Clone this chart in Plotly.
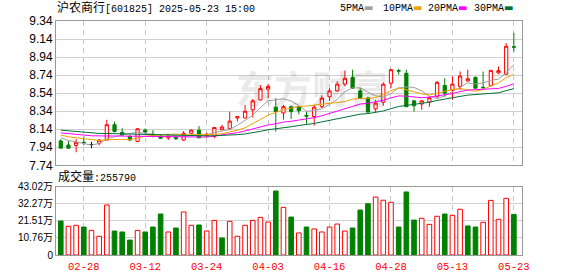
import plotly.graph_objects as go
import pandas as pd

# ---------------- data ----------------
dates = [
    "2025-02-25", "2025-02-26", "2025-02-27", "2025-02-28",
    "2025-03-03", "2025-03-04", "2025-03-05", "2025-03-06", "2025-03-07",
    "2025-03-10", "2025-03-11", "2025-03-12", "2025-03-13", "2025-03-14",
    "2025-03-17", "2025-03-18", "2025-03-19", "2025-03-20", "2025-03-21",
    "2025-03-24", "2025-03-25", "2025-03-26", "2025-03-27", "2025-03-28",
    "2025-03-31", "2025-04-01", "2025-04-02", "2025-04-03",
    "2025-04-07", "2025-04-08", "2025-04-09", "2025-04-10", "2025-04-11",
    "2025-04-14", "2025-04-15", "2025-04-16", "2025-04-17", "2025-04-18",
    "2025-04-21", "2025-04-22", "2025-04-23", "2025-04-24", "2025-04-25",
    "2025-04-28", "2025-04-29", "2025-04-30",
    "2025-05-06", "2025-05-07", "2025-05-08", "2025-05-09",
    "2025-05-12", "2025-05-13", "2025-05-14", "2025-05-15", "2025-05-16",
    "2025-05-19", "2025-05-20", "2025-05-21", "2025-05-22", "2025-05-23",
]
opens = [8.01, 7.965, 7.96, 7.995, 7.97, 7.985, 8.02, 8.19, 8.105, 8.06,
         8.005, 8.13, 8.085, 8.06, 8.045, 8.05, 8.02, 8.095, 8.13, 8.07,
         8.06, 8.135, 8.145, 8.265, 8.265, 8.355, 8.465, 8.585, 8.385, 8.32,
         8.39, 8.39, 8.295, 8.28, 8.39, 8.50, 8.565, 8.64, 8.715, 8.565,
         8.485, 8.365, 8.44, 8.65, 8.79, 8.76, 8.455, 8.42, 8.44, 8.50,
         8.625, 8.575, 8.615, 8.675, 8.715, 8.605, 8.625, 8.765, 8.75, 9.055]
highs = [8.03, 8.01, 8.03, 8.06, 8.00, 8.03, 8.245, 8.225, 8.15, 8.075,
         8.145, 8.15, 8.13, 8.085, 8.065, 8.07, 8.12, 8.14, 8.175, 8.10,
         8.165, 8.188, 8.335, 8.285, 8.41, 8.475, 8.63, 8.64, 8.485, 8.41,
         8.405, 8.395, 8.335, 8.41, 8.515, 8.595, 8.67, 8.79, 8.80, 8.595,
         8.50, 8.465, 8.66, 8.81, 8.81, 8.80, 8.46, 8.46, 8.495, 8.675,
         8.705, 8.725, 8.78, 8.80, 8.725, 8.78, 8.80, 8.835, 9.095, 9.21]
lows = [7.93, 7.925, 7.885, 7.96, 7.93, 7.96, 8.02, 8.105, 8.07, 8.01,
        8.00, 8.10, 8.05, 8.035, 8.02, 8.02, 8.01, 8.09, 8.04, 8.05,
        8.04, 8.13, 8.14, 8.225, 8.26, 8.27, 8.46, 8.485, 8.115, 8.245,
        8.255, 8.305, 8.20, 8.18, 8.375, 8.455, 8.56, 8.615, 8.59, 8.475,
        8.325, 8.33, 8.40, 8.595, 8.745, 8.385, 8.335, 8.355, 8.39, 8.49,
        8.50, 8.465, 8.575, 8.67, 8.59, 8.595, 8.615, 8.75, 8.745, 9.00]
closes = [7.93, 7.93, 7.995, 7.99, 7.97, 8.02, 8.19, 8.115, 8.075, 8.02,
          8.145, 8.11, 8.07, 8.04, 8.065, 8.035, 8.095, 8.13, 8.045, 8.085,
          8.16, 8.165, 8.23, 8.28, 8.34, 8.455, 8.59, 8.615, 8.335, 8.39,
          8.335, 8.345, 8.285, 8.385, 8.485, 8.565, 8.64, 8.705, 8.595, 8.485,
          8.33, 8.43, 8.64, 8.80, 8.785, 8.39, 8.40, 8.455, 8.49, 8.66,
          8.54, 8.64, 8.73, 8.70, 8.595, 8.60, 8.79, 8.79, 9.06, 9.05]
# estimated closes of the 29 sessions before the window (implied by where the MA lines start)
prior_closes = [8.15, 8.20, 8.24, 8.22, 8.18, 8.21, 8.19, 8.17, 8.16, 8.17,
                8.14, 8.12, 8.15, 8.13, 8.11, 8.14, 8.12, 8.10, 8.13, 8.11,
                8.12, 8.09, 8.11, 8.10, 8.095, 8.09, 8.07, 8.08, 8.065]
volumes = [21.4, 18.1, 18.7, 17.6, 15.5, 11.8, 31.5, 15.1, 14.5, 9.4,
           15.5, 14.5, 17.6, 25.8, 14.5, 17.0, 27.1, 18.7, 18.9, 15.1,
           21.8, 10.7, 21.2, 11.8, 18.7, 21.8, 23.7, 20.8, 40.3, 30.0,
           23.9, 13.9, 17.6, 16.4, 14.5, 17.6, 19.5, 15.1, 17.0, 28.3,
           32.3, 36.5, 34.5, 33.2, 17.6, 39.7, 22.0, 23.1, 19.3, 24.4,
           25.8, 25.0, 28.8, 18.3, 17.6, 20.6, 34.4, 22.5, 35.7, 25.579]  # 万股
vol_up = [0, 1, 1, 0, 1, 1, 1, 0, 0, 0,
          1, 0, 0, 0, 1, 0, 1, 1, 0, 1,
          1, 0, 1, 1, 1, 1, 1, 1, 0, 1,
          0, 1, 0, 1, 1, 1, 1, 1, 0, 0,
          0, 1, 1, 1, 0, 0, 0, 1, 1, 1,
          0, 1, 1, 0, 0, 1, 1, 1, 1, 0]
last_volume = 255790
ma_periods = [5, 10, 20, 30]
ma_names = ["5PMA", "10PMA", "20PMA", "30PMA"]
price_ticks = [7.74, 7.94, 8.14, 8.34, 8.54, 8.74, 8.94, 9.14, 9.34]
vol_ticks = [0, 10.76, 21.51, 32.27, 43.02]
vol_tick_labels = ["0", "10.76万", "21.51万", "32.27万", "43.02万"]
date_ticks = ["02-28", "03-12", "03-24", "04-03", "04-16", "04-28", "05-13", "05-23"]
title_text = "沪农商行[601825] 2025-05-23 15:00"

# ---------------- styling ----------------
RED = "#ff0000"
GREEN = "#008000"
MA_COLORS = ["#a0a0a0", "#f0a000", "#ff00ff", "#00703a"]
GRID = "#d0d0d0"
BORDER = "#999999"
W, H = 578, 276
L, R, T, B = 56, 56, 21, 21
PW, PH = W - L - R, H - T - B


def px(x):
    return (x - L) / PW


def py(y):
    return (H - B - y) / PH


n = len(closes)
xs = list(range(n))
mmdd = [d[5:] for d in dates]
tick_idx = [mmdd.index(t) for t in date_ticks]

all_closes = pd.Series(prior_closes + closes)
mas = [all_closes.rolling(p).mean().iloc[-n:].tolist() for p in ma_periods]

fig = go.Figure()

normal = [i for i in xs if opens[i] != closes[i]]
doji = [i for i in xs if opens[i] == closes[i]]

fig.add_trace(go.Candlestick(
    x=normal, open=[opens[i] for i in normal], high=[highs[i] for i in normal],
    low=[lows[i] for i in normal], close=[closes[i] for i in normal],
    increasing=dict(line=dict(color=RED, width=1), fillcolor="#ffffff"),
    decreasing=dict(line=dict(color=GREEN, width=1), fillcolor=GREEN),
    whiskerwidth=0, showlegend=False, xaxis="x", yaxis="y"))
if doji:
    fig.add_trace(go.Candlestick(
        x=doji, open=[opens[i] for i in doji], high=[highs[i] for i in doji],
        low=[lows[i] for i in doji], close=[closes[i] for i in doji],
        increasing=dict(line=dict(color="#000000", width=1), fillcolor="#000000"),
        decreasing=dict(line=dict(color="#000000", width=1), fillcolor="#000000"),
        whiskerwidth=0, showlegend=False, xaxis="x", yaxis="y"))

for name, ma, c in zip(ma_names, mas, MA_COLORS):
    fig.add_trace(go.Scatter(x=xs, y=ma, mode="lines", name=name,
                             line=dict(color=c, width=1), showlegend=False,
                             xaxis="x", yaxis="y"))

up_i = [i for i in xs if vol_up[i]]
dn_i = [i for i in xs if not vol_up[i]]
fig.add_trace(go.Bar(x=up_i, y=[volumes[i] for i in up_i], width=0.6,
                     marker=dict(color="#ffffff", line=dict(color=RED, width=1)),
                     showlegend=False, xaxis="x2", yaxis="y2"))
fig.add_trace(go.Bar(x=dn_i, y=[volumes[i] for i in dn_i], width=0.6,
                     marker=dict(color=GREEN, line=dict(color=GREEN, width=1)),
                     showlegend=False, xaxis="x2", yaxis="y2"))

xrange = [-0.62, n - 1 + 1.06]
price_dom = [py(165.3), 1.0]
vol_dom = [0.0, py(186.7)]

common_x = dict(range=xrange, tickvals=tick_idx, showgrid=True, gridcolor="#c8c8c8",
                griddash="5px,4px", gridwidth=1, zeroline=False, showline=True,
                linecolor=BORDER, linewidth=1, mirror=True, ticks="", fixedrange=True,
                automargin=False)
common_y = dict(showgrid=True, gridcolor=GRID, gridwidth=1, zeroline=False,
                showline=True, linecolor=BORDER, linewidth=1, mirror=True, ticks="",
                automargin=False, fixedrange=True)
fig.update_layout(
    width=W, height=H, margin=dict(l=L, r=R, t=T, b=B, autoexpand=False),
    paper_bgcolor="#ffffff", plot_bgcolor="#ffffff",
    boxgap=0.4, barmode="overlay", showlegend=False,
    font=dict(family="Liberation Sans, Arial, Noto Sans CJK SC", size=12, color="#000000"),
    xaxis=dict(domain=[0, 1], anchor="y", showticklabels=False,
               rangeslider=dict(visible=False), **common_x),
    yaxis=dict(domain=price_dom, anchor="x", range=[price_ticks[0], price_ticks[-1]],
               tickvals=price_ticks, ticktext=[f"{v:.2f}" for v in price_ticks],
               tickfont=dict(size=12, color="#000000",
                             family="Liberation Sans, Arial"), **common_y),
    xaxis2=dict(domain=[0, 1], anchor="y2", matches="x", showticklabels=True,
                ticktext=date_ticks, ticklabelstandoff=1,
                tickfont=dict(size=10.5, color=RED, family="Liberation Mono, monospace"),
                rangeslider=dict(visible=False), **common_x),
    yaxis2=dict(domain=vol_dom, anchor="x2", range=[vol_ticks[0], vol_ticks[-1]],
                tickvals=vol_ticks, ticktext=vol_tick_labels,
                tickfont=dict(size=10, color="#000000",
                              family="Liberation Sans, Noto Sans CJK SC"), **common_y),
)

mono = "Liberation Mono, Noto Sans CJK SC"
annotations = []
# title
cjk, rest = title_text[:4], title_text[4:]
annotations.append(dict(
    xref="paper", yref="paper", x=px(55), y=py(8), xanchor="left", yanchor="middle",
    text=f"<span style='font-size:12px'>{cjk}</span>{rest}", showarrow=False,
    font=dict(family=mono, size=10, color="#000000")))
# MA legend
leg_x = [338, 380.7, 425.7, 471.7]
for name, c, lx in zip(ma_names, MA_COLORS, leg_x):
    annotations.append(dict(
        xref="paper", yref="paper", x=px(lx), y=py(8), xanchor="left", yanchor="middle",
        text=f"{name}<span style='color:{c};font-family:DejaVu Sans'>▬</span>",
        showarrow=False, font=dict(family=mono, size=10, color="#000000")))
# volume caption
annotations.append(dict(
    xref="paper", yref="paper", x=px(56), y=py(177), xanchor="left", yanchor="middle",
    text=f"<span style='font-size:12px'>成交量</span>:{last_volume}", showarrow=False,
    font=dict(family=mono, size=10, color="#000000")))
# watermark
annotations.append(dict(
    xref="paper", yref="paper", x=px(312), y=py(86), xanchor="center", yanchor="middle",
    text="<b>东方财富</b>", showarrow=False, opacity=0.08,
    font=dict(family="Noto Sans CJK SC", size=38, color="#000000")))
fig.update_layout(annotations=annotations)

fig.write_html("out.html")
